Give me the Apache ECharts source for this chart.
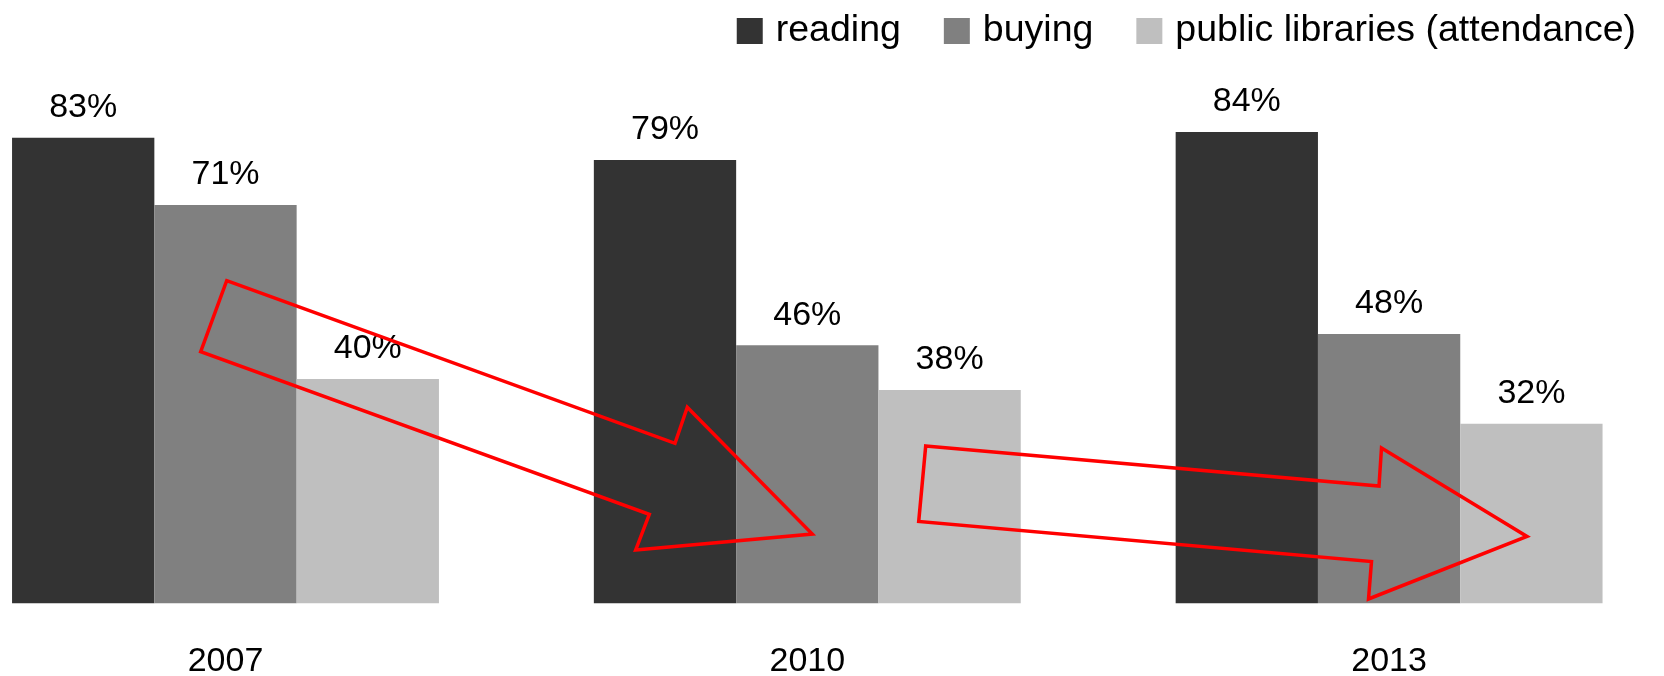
<!DOCTYPE html>
<html>
<head>
<meta charset="utf-8">
<title>reading / buying / public libraries</title>
<script src="https://cdn.jsdelivr.net/npm/echarts@6/dist/echarts.min.js"></script>
<style>
  html, body {
    margin: 0;
    padding: 0;
    background: #fff;
  }
  #chart {
    width: 1664px;
    height: 676px;
  }
</style>
</head>
<body>
<div id="chart"></div>
<script>
// data (percent)
let years = ['2007', '2010', '2013']
let reading = [83, 79, 84]
let buying = [71, 46, 48]
let libraries = [40, 38, 32]
let seriesNames = ['reading', 'buying', 'public libraries (attendance)']

let colors = ['#333333', '#808080', '#bfbfbf']
let fontFamily = "'Liberation Sans', Arial, Helvetica, sans-serif"

// red outline arrows drawn over the bars (annotation only, pixel positions)
let arrowOne = [[226.7, 280.7], [675, 443.3], [687.3, 407.3], [812.3, 534], [635.7, 550], [649.3, 514.3], [200.7, 351.7]]
let arrowTwo = [[925.7, 446], [1379, 486], [1381.5, 448], [1527, 536.5], [1368.5, 599], [1371.5, 561.5], [918.7, 521.5]]

function makeSeries (name, values, color) {
  return {
    name: name,
    type: 'bar',
    data: values,
    barWidth: 142.3,
    barGap: '0%',
    itemStyle: {
      color: color
    },
    label: {
      show: true,
      position: 'top',
      distance: 13,
      formatter: '{c}%',
      color: '#000',
      fontSize: 34,
      fontFamily: fontFamily
    },
    emphasis: { disabled: true }
  }
}

function arrow (points) {
  return {
    type: 'polygon',
    z: 100,
    shape: { points: points },
    style: {
      fill: 'none',
      stroke: '#ff0000',
      lineWidth: 3.5,
      lineJoin: 'miter'
    },
    silent: true
  }
}

let myChart = echarts.init(document.getElementById('chart'), null, { renderer: 'canvas' })
let option = {
  animation: false,
  backgroundColor: '#ffffff',
  color: colors,
  legend: {
    right: 23,
    top: 7,
    icon: 'rect',
    itemWidth: 26,
    itemHeight: 26,
    itemGap: 43,
    textStyle: {
      color: '#000',
      fontSize: 37.5,
      fontFamily: fontFamily,
      padding: [0, 0, 0, 8]
    },
    data: seriesNames
  },
  // category centres sit on the grid edges (boundaryGap false)
  grid: {
    left: 225.5,
    right: 274.9,
    top: 42.3,
    bottom: 72.7,
    containLabel: false,
    outerBoundsMode: 'none'
  },
  xAxis: {
    type: 'category',
    boundaryGap: false,
    data: years,
    axisLine: { show: false },
    axisTick: { show: false },
    axisLabel: {
      margin: 41,
      color: '#000',
      fontSize: 34,
      lineHeight: 34,
      fontFamily: fontFamily
    }
  },
  yAxis: {
    type: 'value',
    min: 0,
    max: 100,
    show: false,
    splitLine: { show: false }
  },
  series: [
    makeSeries(seriesNames[0], reading, colors[0]),
    makeSeries(seriesNames[1], buying, colors[1]),
    makeSeries(seriesNames[2], libraries, colors[2])
  ],
  graphic: [arrow(arrowOne), arrow(arrowTwo)]
}
myChart.setOption(option)
</script>
</body>
</html>
